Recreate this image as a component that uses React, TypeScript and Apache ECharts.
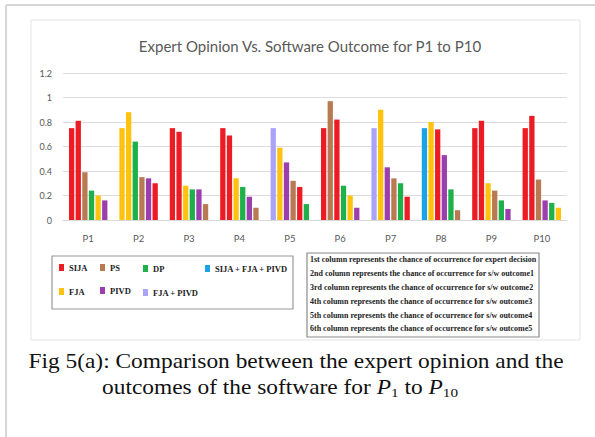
import React, { useEffect, useRef } from "react";
import * as echarts from "echarts";

const categories = ["P1", "P2", "P3", "P4", "P5", "P6", "P7", "P8", "P9", "P10"];
const yTicks = [0, 0.2, 0.4, 0.6, 0.8, 1, 1.2];

// values of the 6 columns for each of P1..P10
const col1 = [0.75, 0.75, 0.75, 0.75, 0.75, 0.75, 0.75, 0.75, 0.75, 0.75];
const col2 = [0.81, 0.88, 0.72, 0.69, 0.59, 0.97, 0.9, 0.8, 0.81, 0.85];
const col3 = [0.39, 0.64, 0.28, 0.34, 0.47, 0.82, 0.43, 0.74, 0.3, 0.33];
const col4 = [0.24, 0.35, 0.25, 0.27, 0.32, 0.28, 0.34, 0.53, 0.24, 0.16];
const col5 = [0.2, 0.34, 0.25, 0.19, 0.27, 0.2, 0.3, 0.25, 0.16, 0.14];
const col6 = [0.16, 0.3, 0.13, 0.1, 0.13, 0.1, 0.19, 0.08, 0.09, 0.1];

// method shown by each bar
const meth1 = ["SIJA", "FJA", "SIJA", "SIJA", "FJA + PIVD", "SIJA", "FJA + PIVD", "SIJA + FJA + PIVD", "SIJA", "SIJA"];
const meth2 = ["SIJA", "FJA", "SIJA", "SIJA", "FJA", "PS", "FJA", "FJA", "SIJA", "SIJA"];
const meth3 = ["PS", "DP", "FJA", "FJA", "PIVD", "SIJA", "PIVD", "SIJA", "FJA", "PS"];
const meth4 = ["DP", "PS", "DP", "DP", "PS", "DP", "PS", "PIVD", "PS", "PIVD"];
const meth5 = ["FJA", "PIVD", "PIVD", "PIVD", "SIJA", "FJA", "DP", "DP", "DP", "DP"];
const meth6 = ["PIVD", "SIJA", "PS", "PS", "DP", "PIVD", "SIJA", "PS", "PIVD", "FJA"];

const legendNames = ["SIJA", "PS", "DP", "SIJA + FJA + PIVD", "FJA", "PIVD", "FJA + PIVD"];
const noteLines = [
  "1st column represents the chance of occurrence for expert decision",
  "2nd column represents the chance of occurrence for s/w outcome1",
  "3rd column represents the chance of occurrence for s/w outcome2",
  "4th column represents the chance of occurrence for s/w outcome3",
  "5th column represents the chance of occurrence for s/w outcome4",
  "6th column represents the chance of occurrence for s/w outcome5",
];

const colorOf: Record<string, string> = {
  SIJA: "#ec1c24",
  PS: "#b87a52",
  DP: "#1db04b",
  "SIJA + FJA + PIVD": "#1aa3e6",
  FJA: "#ffc20e",
  PIVD: "#9b3fae",
  "FJA + PIVD": "#aaa4f7",
};

export default function App() {
  const ref = useRef<HTMLDivElement>(null);
  useEffect(() => {
    if (!ref.current) return;
    const chart = echarts.init(ref.current, null, { renderer: "svg" });
    const cols = [col1, col2, col3, col4, col5, col6];
    const meths = [meth1, meth2, meth3, meth4, meth5, meth6];
    const series = cols.map((c, i) => ({
      type: "bar",
      name: "col" + (i + 1),
      barWidth: 5.3,
      barGap: "25%",
      data: c.map((v, j) => ({ value: v, itemStyle: { color: colorOf[meths[i][j]] } })),
    }));

    const legendPos = [
      [61, 268], [102, 268], [145, 269], [207, 269],
      [61, 292], [102, 291], [145, 293],
    ];
    const legendGraphics: any[] = [];
    legendNames.forEach((n, i) => {
      const [x, y] = legendPos[i];
      legendGraphics.push({
        type: "rect",
        shape: { x: x - 2, y: y - 4, width: 5, height: 7 },
        style: { fill: colorOf[n] },
      });
      legendGraphics.push({
        type: "text",
        x: x + 8,
        y: y,
        style: {
          text: n,
          font: "bold 8.5px 'Liberation Serif'",
          fill: "#222",
          verticalAlign: "middle",
        },
      });
    });
    const noteYs = [259, 273, 287, 301, 315, 328];
    const noteGraphics = noteLines.map((t, i) => ({
      type: "text",
      x: 310,
      y: noteYs[i],
      style: {
        text: t,
        font: "bold 8px 'Liberation Serif'",
        fill: "#222",
        verticalAlign: "middle",
      },
    }));

    chart.setOption({
      animation: false,
      title: {
        text: "Expert Opinion Vs. Software Outcome for P1 to P10",
        left: 305,
        top: 33,
        textAlign: "center",
        textStyle: { fontFamily: "Lato", fontSize: 15, fontWeight: "normal", color: "#595959" },
      },
      grid: { left: 63, right: 28, top: 73, bottom: 217 },
      xAxis: {
        type: "category",
        data: categories,
        axisLine: { lineStyle: { color: "#d9d9d9" } },
        axisTick: { show: false },
        axisLabel: { fontFamily: "Lato", fontSize: 9.5, color: "#595959", margin: 13 },
      },
      yAxis: {
        type: "value",
        min: yTicks[0],
        max: yTicks[yTicks.length - 1],
        interval: 0.2,
        splitLine: { lineStyle: { color: "#dcdcdc" } },
        axisLabel: { fontFamily: "Lato", fontSize: 9, color: "#595959", margin: 11 },
      },
      series,
      graphic: [
        { type: "line", shape: { x1: 6, y1: 5, x2: 595, y2: 5 }, style: { stroke: "#d6d6d6", lineWidth: 2 } },
        { type: "line", shape: { x1: 6, y1: 5, x2: 6, y2: 437 }, style: { stroke: "#d6d6d6", lineWidth: 2 } },
        { type: "rect", shape: { x: 31, y: 20, width: 549, height: 320 }, style: { fill: "none", stroke: "#e3e3e3", lineWidth: 1 } },
        { type: "rect", shape: { x: 52, y: 256, width: 241, height: 53 }, style: { fill: "none", stroke: "#9a9a9a", lineWidth: 1.2 } },
        { type: "rect", shape: { x: 307, y: 253, width: 232, height: 84 }, style: { fill: "none", stroke: "#8a8a8a", lineWidth: 1.2 } },
        ...legendGraphics,
        ...noteGraphics,
        {
          type: "text",
          x: 296,
          y: 362,
          scaleX: 1.17,
          style: {
            text: "Fig 5(a): Comparison between the expert opinion and the",
            font: "20px 'Liberation Serif'",
            fill: "#111",
            align: "center",
            verticalAlign: "middle",
          },
        },
        {
          type: "text",
          x: 280,
          y: 388,
          scaleX: 1.17,
          style: {
            text: "outcomes of the software for {i|P}{s|1} to {i|P}{s|10}",
            font: "20px 'Liberation Serif'",
            fill: "#111",
            align: "center",
            verticalAlign: "middle",
            rich: {
              i: { font: "italic 20px 'Liberation Serif'", fill: "#111" },
              s: { font: "13px 'Liberation Serif'", fill: "#111", padding: [8, 0, 0, 0] },
            },
          },
        },
      ],
    });
    return () => chart.dispose();
  }, []);
  return <div ref={ref} style={{ position: "absolute", left: 0, top: 0, width: 595, height: 437, background: "#fff" }} />;
}
